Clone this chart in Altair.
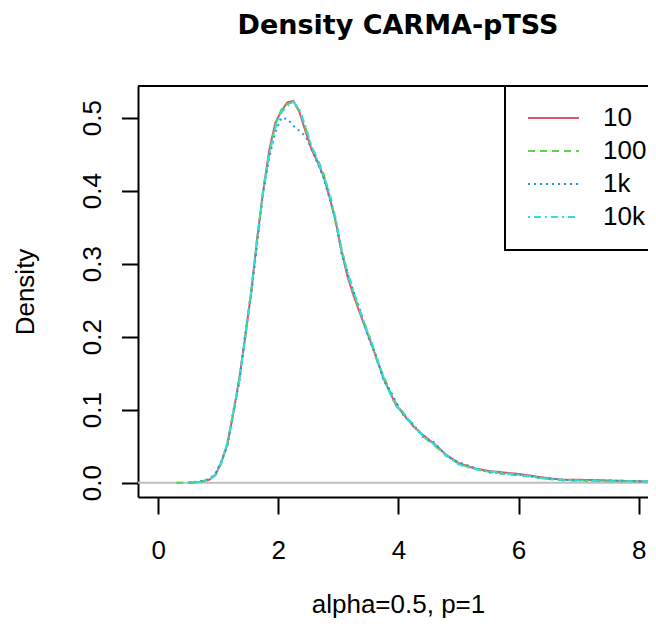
import altair as alt
import pandas as pd

# ---- data ----
x_vals = [0.3, 0.5, 0.7, 0.85, 0.95, 1.05, 1.15, 1.25, 1.35, 1.45, 1.55, 1.65, 1.75,
          1.85, 1.95, 2.05, 2.15, 2.25, 2.35, 2.45, 2.55, 2.65, 2.75, 2.85, 2.95,
          3.05, 3.15, 3.25, 3.35, 3.45, 3.55, 3.65, 3.75, 3.85, 3.95, 4.1, 4.25,
          4.4, 4.6, 4.8, 5.0, 5.25, 5.5, 5.75, 6.0, 6.25, 6.5, 6.75, 7.0, 7.5, 8.0, 8.4]

dens_10 = [None, 0.000, 0.001, 0.004, 0.010, 0.028, 0.052, 0.095, 0.143, 0.200,
           0.262, 0.336, 0.401, 0.456, 0.493, 0.509, 0.521, 0.523, 0.508, 0.482,
           0.457, 0.440, 0.420, 0.392, 0.360, 0.318, 0.283, 0.257, 0.234, 0.212,
           0.190, 0.167, 0.143, 0.125, 0.108, 0.092, 0.077, 0.066, 0.053, 0.038,
           0.027, 0.020, 0.016, 0.014, 0.012, 0.009, 0.006, 0.004, 0.004, 0.003,
           0.002, 0.002]
dens_100 = [0.000, 0.000, 0.001, 0.005, 0.011, 0.026, 0.055, 0.093, 0.140, 0.203,
            0.265, 0.333, 0.404, 0.452, 0.490, 0.511, 0.519, 0.521, 0.510, 0.487,
            0.460, 0.444, 0.424, 0.395, 0.357, 0.322, 0.286, 0.260, 0.236, 0.215,
            0.192, 0.165, 0.147, 0.127, 0.110, 0.094, 0.079, 0.064, 0.051, 0.037,
            0.026, 0.019, 0.015, 0.012, 0.010, 0.008, 0.005, 0.003, 0.003, 0.002,
            0.002, 0.001]
dens_1k = [None, 0.000, 0.002, 0.005, 0.012, 0.030, 0.050, 0.098, 0.138, 0.205,
           0.258, 0.330, 0.398, 0.446, 0.480, 0.500, 0.498, 0.489, 0.482, 0.475,
           0.458, 0.438, 0.418, 0.390, 0.362, 0.315, 0.288, 0.262, 0.240, 0.210,
           0.188, 0.170, 0.140, 0.128, 0.112, 0.090, 0.080, 0.063, 0.055, 0.036,
           0.028, 0.021, 0.014, 0.013, 0.011, 0.008, 0.006, 0.004, 0.003, 0.003,
           0.002, 0.002]
dens_10k = [None, 0.000, 0.001, 0.004, 0.010, 0.027, 0.054, 0.097, 0.141, 0.198,
            0.264, 0.338, 0.399, 0.450, 0.486, 0.507, 0.516, 0.522, 0.512, 0.489,
            0.462, 0.442, 0.422, 0.398, 0.364, 0.320, 0.290, 0.263, 0.238, 0.214,
            0.193, 0.169, 0.145, 0.124, 0.106, 0.093, 0.078, 0.065, 0.052, 0.037,
            0.025, 0.019, 0.016, 0.013, 0.011, 0.008, 0.005, 0.004, 0.003, 0.002,
            0.002, 0.002]

series = ["10", "100", "1k", "10k"]
x_ticks = [0, 2, 4, 6, 8]
y_ticks = [0.0, 0.1, 0.2, 0.3, 0.4, 0.5]
title_text = "Density CARMA-pTSS"
x_title = "alpha=0.5, p=1"
y_title = "Density"

# ---- styles ----
colors = ["#DF536B", "#61D04F", "#2297E6", "#28E2E5"]
dashes = [[1, 0], [7, 5], [2, 4], [2, 4, 7, 4]]
FONT = "Liberation Sans"

rows = []
for name, ys in zip(series, [dens_10, dens_100, dens_1k, dens_10k]):
    for xv, yv in zip(x_vals, ys):
        if yv is not None:
            rows.append({"x": xv, "y": yv, "s": name})
df = pd.DataFrame(rows)

PLOT_W = 510
xscale = alt.Scale(domain=[-0.337, 8.156], nice=False, zero=False)
yscale = alt.Scale(domain=[-0.0196, 0.5434], nice=False, zero=False)

xaxis = alt.Axis(values=x_ticks, title=x_title, grid=False, tickSize=17,
                 labelPadding=44, labelBaseline="alphabetic", labelFlush=False,
                 labelOverlap=False, titleX=260, titleY=115, titleAlign="center",
                 titleBaseline="alphabetic")
yaxis = alt.Axis(values=y_ticks, format=".1f", title=y_title, grid=False,
                 tickSize=16.5, labelAngle=270, labelAlign="center",
                 labelBaseline="alphabetic", labelPadding=21.5, labelOverlap=False,
                 titleAngle=270, titleX=-105, titleY=205.5, titleAlign="center",
                 titleBaseline="alphabetic")

one = pd.DataFrame({"k": [0]})

zero_rule = alt.Chart(pd.DataFrame({"y": [0.0]})).mark_rule(
    color="#BEBEBE", strokeWidth=2
).encode(y=alt.Y("y:Q", scale=yscale, axis=yaxis))

line_layers = []
for name, c, d in zip(series, colors, dashes):
    line_layers.append(
        alt.Chart(df[df["s"] == name]).mark_line(
            color=c, strokeDash=d, strokeWidth=2, clip=True
        ).encode(
            x=alt.X("x:Q", scale=xscale, axis=xaxis),
            y=alt.Y("y:Q", scale=yscale, axis=yaxis),
            order=alt.Order("x:Q"),
        )
    )

top_rule = alt.Chart(one).mark_rule(color="black", strokeWidth=2).encode(
    x=alt.value(0), x2=alt.value(540), y=alt.value(0)
)

# main title drawn as a text mark so its baseline can sit exactly
title_mark = alt.Chart(pd.DataFrame({"t": [title_text]})).mark_text(
    font="DejaVu Sans", fontWeight="bold", fontSize=27, color="black",
    align="center", baseline="alphabetic",
).encode(x=alt.value(260), y=alt.value(-52.5), text="t:N")

main = alt.layer(zero_rule, *line_layers, top_rule, title_mark)

# ---- legend (drawn as marks) ----
leg_df = pd.DataFrame({"lab": series})
leg_y = alt.Scale(type="point", domain=series, range=[32, 131], padding=0)

box = alt.Chart(one).mark_rect(fill="white", stroke="black", strokeWidth=2).encode(
    x=alt.value(367), x2=alt.value(580), y=alt.value(0), y2=alt.value(164)
)
leg_lines = alt.Chart(leg_df).mark_rule(strokeWidth=2).encode(
    x=alt.value(390), x2=alt.value(441),
    y=alt.Y("lab:N", scale=leg_y, axis=None),
    color=alt.Color("lab:N", scale=alt.Scale(domain=series, range=colors), legend=None),
    strokeDash=alt.StrokeDash("lab:N", scale=alt.Scale(domain=series, range=dashes), legend=None),
)
leg_text = alt.Chart(leg_df).mark_text(
    align="left", baseline="middle", fontSize=26, font=FONT, color="black"
).encode(
    x=alt.value(465),
    y=alt.Y("lab:N", scale=leg_y, axis=None),
    text="lab:N",
)
legend = alt.layer(box, leg_lines, leg_text)

chart = alt.layer(main, legend).resolve_scale(
    y="independent", color="independent", strokeDash="independent"
).properties(
    width=PLOT_W,
    height=411,
    padding={"left": 130, "top": 78, "right": 0, "bottom": 122},
    autosize=alt.AutoSizeParams(type="none"),
).configure_view(stroke=None).configure_axis(
    domainColor="black", domainWidth=2, tickColor="black", tickWidth=2,
    labelColor="black", titleColor="black", labelFont=FONT, titleFont=FONT,
    labelFontSize=26, titleFontSize=26, titleFontWeight="normal",
)

chart.save("out.html", embed_options={"renderer": "svg", "actions": False})
